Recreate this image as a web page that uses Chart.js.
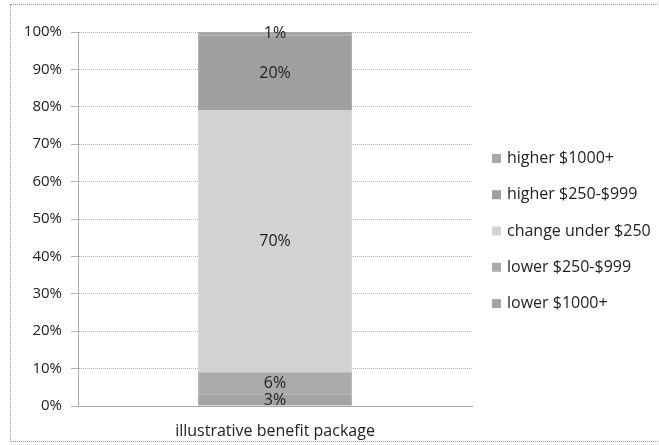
<!DOCTYPE html>
<html>
<head>
<meta charset="utf-8">
<script src="https://cdn.jsdelivr.net/npm/chart.js@4.4.0/dist/chart.umd.min.js"></script>
<style>
  html, body { margin: 0; padding: 0; background: #fff; }
  #wrap { position: absolute; left: 10px; top: 4px; width: 660px; height: 438px; border: 1px dotted #999; box-sizing: border-box; }
  #box { position: absolute; left: 0; top: 0; width: 659px; height: 445px; }
</style>
</head>
<body>
<div id="wrap"></div>
<div id="box"><canvas id="chart" width="659" height="445"></canvas></div>
<script>
// ---------------- DATA ----------------
const categories = ["illustrative benefit package"];
const seriesNames = ["lower $1000+", "lower $250-$999", "change under $250", "higher $250-$999", "higher $1000+"];
const lower1000 = [3];
const lower250 = [6];
const changeUnder = [70];
const higher250 = [20];
const higher1000 = [1];
const yTicks = [0, 10, 20, 30, 40, 50, 60, 70, 80, 90, 100];

const colors = ["#a4a4a4", "#ababab", "#d2d2d2", "#9f9f9f", "#a8a8a8"];
const fontFam = "'Open Sans', sans-serif";

// ---------------- LABELS PLUGIN ----------------
const segLabels = {
    id: "segLabels",
    afterDatasetsDraw(c) {
        const ctx = c.ctx;
        ctx.save();
        ctx.font = "16px " + fontFam;
        ctx.fillStyle = "#222";
        ctx.textAlign = "center";
        ctx.textBaseline = "middle";
        c.data.datasets.forEach((ds, i) => {
            c.getDatasetMeta(i).data.forEach((bar, j) => {
                const y = (bar.y + bar.base) / 2;
                ctx.fillText(ds.data[j] + "%", bar.x, y);
            });
        });
        ctx.restore();
    }
};

// ---------------- LEGEND PLUGIN ----------------
// drawn by hand so the spacing can match the original
const sideLegend = {
    id: "sideLegend",
    afterDraw(c) {
        const ctx = c.ctx;
        const a = c.chartArea;
        const step = 36.3;
        const n = c.data.datasets.length;
        const mid = (a.top + a.bottom) / 2 + 12;
        const x = a.right + 20;
        ctx.save();
        ctx.font = "16px " + fontFam;
        ctx.textBaseline = "middle";
        c.data.datasets.slice().reverse().forEach((ds, k) => {
            const y = mid + (k - (n - 1) / 2) * step;
            ctx.fillStyle = ds.backgroundColor;
            ctx.fillRect(x, y - 4.5, 9, 9);
            ctx.fillStyle = "#222";
            ctx.fillText(ds.label, x + 15, y);
        });
        ctx.restore();
    }
};

// ---------------- CHART ----------------
const ctx = document.getElementById("chart").getContext("2d");
new Chart(ctx, {
    type: "bar",
    data: {
        labels: categories,
        datasets: [lower1000, lower250, changeUnder, higher250, higher1000].map((d, i) => ({
            label: seriesNames[i],
            data: d,
            backgroundColor: colors[i],
            borderWidth: 0,
            barPercentage: 0.39,
            categoryPercentage: 1
        }))
    },
    options: {
        responsive: false,
        animation: false,
        layout: { padding: { left: 10, top: 32, right: 187, bottom: 0 } },
        plugins: {
            tooltip: { enabled: false },
            legend: { display: false }
        },
        scales: {
            x: {
                stacked: true,
                afterFit: s => { s.height = 39; },
                grid: { display: false },
                border: { color: "#aaa", dash: [1, 1] },
                ticks: { color: "#222", padding: 8, font: { family: fontFam, size: 16 } }
            },
            y: {
                stacked: true,
                min: 0, max: 100,
                afterBuildTicks: s => { s.ticks = yTicks.map(v => ({ value: v })); },
                afterFit: s => { s.width = 68; },
                grid: { color: "#b5b5b5", tickLength: 7 },
                border: { color: "#aaa", dash: [1, 1] },
                ticks: {
                    color: "#222",
                    padding: 9,
                    font: { family: fontFam, size: 15 },
                    callback: v => v + "%"
                }
            }
        }
    },
    plugins: [segLabels, sideLegend]
});
</script>
</body>
</html>
